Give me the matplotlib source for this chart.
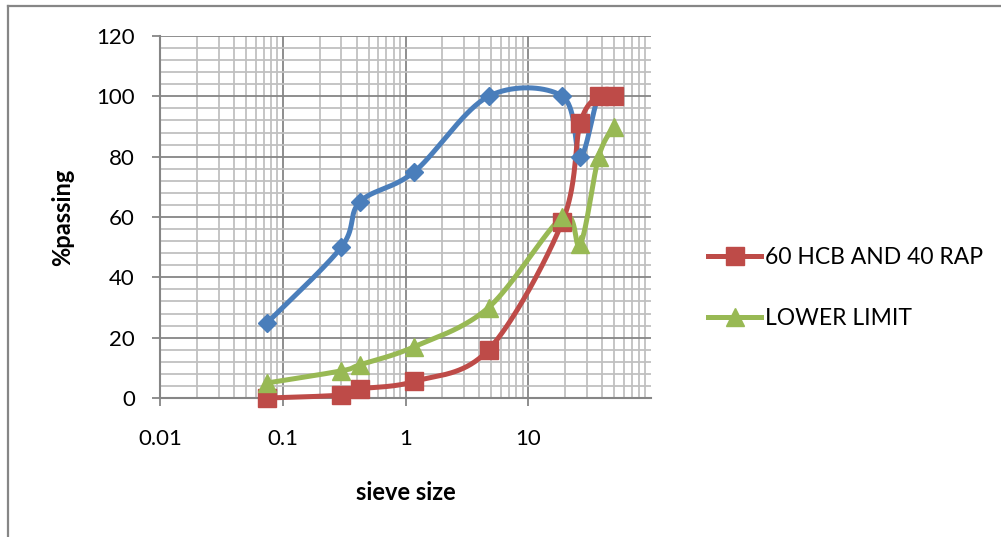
import numpy as np
import matplotlib
matplotlib.use("Agg")
import matplotlib.pyplot as plt
from matplotlib.lines import Line2D
from matplotlib.ticker import LogLocator, FixedLocator, MultipleLocator, NullFormatter

plt.rcParams['font.family'] = ['Lato', 'DejaVu Sans']

# sieve sizes (mm) and % passing
sieve = [0.075, 0.3, 0.425, 1.18, 4.75, 19, 26.5, 37.5, 50]
upper_limit = [25, 50, 65, 75, 100, 100, 80, 100, 100]
mix_60_40 = [0, 1, 3, 5.5, 16, 58.5, 91, 100, 100]
lower_limit = [5, 9, 11, 17, 30, 60, 51, 80, 90]

x_ticks = [0.01, 0.1, 1, 10]
x_ticklabels = ['0.01', '0.1', '1', '10']

BLUE = '#4A7EBB'
RED = '#BE4B48'
GREEN = '#98B954'
AXGRAY = '#868686'
MINGRAY = '#C0C0C0'


def excel_smooth(ax, xs, ys, n=40):
    # bezier smoothing in screen space, like excel "smoothed line"
    pts = ax.transData.transform(np.column_stack([xs, ys]))
    out = [pts[0]]
    t = np.linspace(0, 1, n)[1:, None]
    for i in range(len(pts) - 1):
        p0 = pts[i - 1] if i > 0 else pts[i]
        p1 = pts[i]
        p2 = pts[i + 1]
        p3 = pts[i + 2] if i + 2 < len(pts) else pts[i + 1]
        c1 = p1 + (p2 - p0) / 6
        c2 = p2 - (p3 - p1) / 6
        seg = (1 - t) ** 3 * p1 + 3 * (1 - t) ** 2 * t * c1 + 3 * (1 - t) * t ** 2 * c2 + t ** 3 * p2
        out.extend(seg)
    d = ax.transData.inverted().transform(np.array(out))
    return d[:, 0], d[:, 1]


W, H = 1001, 537
fig = plt.figure(figsize=(W / 100, H / 100), dpi=100)
ax = fig.add_axes([160 / W, 1 - 398 / H, (651 - 160) / W, (398 - 36) / H])

ax.set_xscale('log')
ax.set_xlim(0.01, 100)
ax.set_ylim(0, 120)

# grid
ax.xaxis.set_major_locator(FixedLocator(x_ticks))
ax.xaxis.set_minor_locator(LogLocator(base=10, subs=np.arange(2, 10)))
ax.xaxis.set_minor_formatter(NullFormatter())
ax.set_xticklabels(x_ticklabels)
ax.yaxis.set_major_locator(MultipleLocator(20))
ax.yaxis.set_minor_locator(MultipleLocator(4))
ax.grid(which='minor', color=MINGRAY, lw=1.3)
ax.grid(which='major', color=AXGRAY, lw=1.3)
ax.set_axisbelow(True)

for s in ['top', 'right']:
    ax.spines[s].set_visible(False)
for s in ['left', 'bottom']:
    ax.spines[s].set_color(AXGRAY)
    ax.spines[s].set_linewidth(1.5)

ax.tick_params(which='major', length=6, width=1.3, color=AXGRAY, labelsize=16)
ax.tick_params(which='minor', length=0)
ax.tick_params(axis='y', pad=12)
ax.tick_params(axis='x', pad=16)

series = [
    (upper_limit, BLUE, 'D', 9.5, None),
    (mix_60_40, RED, 's', 13.5, '60 HCB AND 40 RAP'),
    (lower_limit, GREEN, '^', 13.5, 'LOWER LIMIT'),
]
for vals, col, mk, ms, lab in series:
    sx, sy = excel_smooth(ax, sieve, vals)
    ax.plot(sx, sy, color=col, lw=3.6, solid_capstyle='round', zorder=3, clip_on=False)
    ax.plot(sieve, vals, ls='none', marker=mk, ms=ms, color=col, zorder=4, clip_on=False)

ax.set_ylabel('%passing', fontsize=17, fontweight='bold', labelpad=16)
ax.set_xlabel('sieve size', fontsize=17, fontweight='bold', labelpad=23)

handles = [
    Line2D([], [], color=RED, lw=3.6, marker='s', ms=13.5),
    Line2D([], [], color=GREEN, lw=3.6, marker='^', ms=13.5),
]
fig.legend(handles, ['60 HCB AND 40 RAP', 'LOWER LIMIT'], loc='center left',
           bbox_to_anchor=(697 / W, 1 - 288 / H), frameon=False, fontsize=16.5,
           handlelength=2.3, handletextpad=0.15, labelspacing=1.75, borderpad=0)

# outer chart border (left and top visible)
fig.add_artist(Line2D([8 / W, 8 / W], [0, 1 - 6 / H], color=AXGRAY, lw=1.6))
fig.add_artist(Line2D([8 / W, 1], [1 - 6 / H, 1 - 6 / H], color=AXGRAY, lw=1.6))

fig.savefig('out.png', dpi=100)
